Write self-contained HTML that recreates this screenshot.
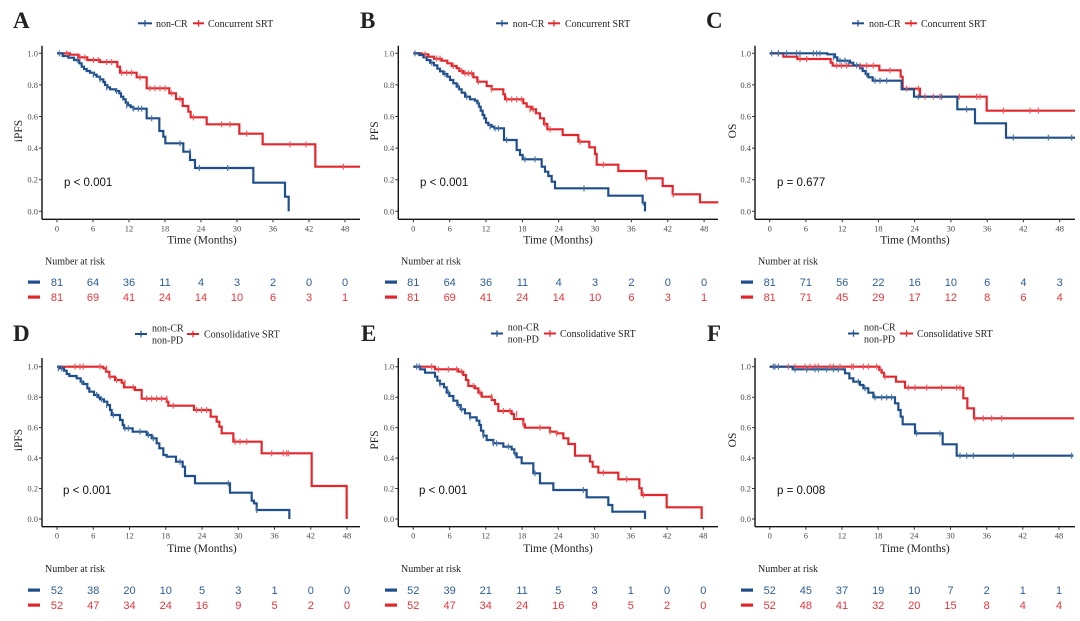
<!DOCTYPE html>
<html><head><meta charset="utf-8"><style>
html,body{margin:0;padding:0;background:#fff;}
svg{display:block;}
.ax{stroke:#111;stroke-width:1.4;fill:none}
.tk{stroke:#333;stroke-width:1;fill:none}
.tl{font-family:"Liberation Serif",serif;font-size:8.5px;fill:#4d4d4d}
.xl{font-family:"Liberation Serif",serif;font-size:11.5px;fill:#222}
.lg{font-family:"Liberation Serif",serif;font-size:10px;fill:#222}
.pl{font-family:"Liberation Serif",serif;font-size:23px;font-weight:bold;fill:#222}
.pv{font-family:"Liberation Sans",sans-serif;font-size:11.5px;fill:#111}
.rb{font-family:"Liberation Sans",sans-serif;font-size:11px;fill:#2c5d97;text-anchor:middle}
.rr{font-family:"Liberation Sans",sans-serif;font-size:11px;fill:#e8333a;text-anchor:middle}
.cb{fill:none;stroke:#1f4e8c;stroke-width:6.5;stroke-linejoin:miter}
.cr{fill:none;stroke:#e3262b;stroke-width:6.5;stroke-linejoin:miter}
.mb{fill:none;stroke:#4a74a8;stroke-width:3.5}
.mr{fill:none;stroke:#ec5a5e;stroke-width:3.5}
</style></head><body>
<svg width="1080" height="621" viewBox="0 0 1080 621" xmlns="http://www.w3.org/2000/svg">
<rect width="1080" height="621" fill="#fff"/>

<!-- ================= PANEL A ================= -->
<text class="pl" x="13" y="28">A</text>
<g>
<line x1="138" y1="23.3" x2="152" y2="23.3" stroke="#1f4e8c" stroke-width="2"/><line x1="145" y1="20" x2="145" y2="26.6" stroke="#1f4e8c" stroke-width="1.2"/>
<text class="lg" x="156" y="26.8">non-CR</text>
<line x1="193" y1="23.3" x2="204" y2="23.3" stroke="#e3262b" stroke-width="2"/><line x1="198.5" y1="20" x2="198.5" y2="26.6" stroke="#e3262b" stroke-width="1.2"/>
<text class="lg" x="208" y="26.8">Concurrent SRT</text>
</g>
<line class="ax" x1="42" y1="45.7" x2="42" y2="219.3"/><line class="ax" x1="42" y1="219.3" x2="360" y2="219.3"/>
<path class="tk" d="M39,53.3H42M39,84.9H42M39,116.5H42M39,148.1H42M39,179.7H42M39,211.3H42"/>
<path class="tk" d="M57,219.3v3M93,219.3v3M129,219.3v3M165,219.3v3M201,219.3v3M237,219.3v3M273,219.3v3M309,219.3v3M345,219.3v3"/>
<g class="tl" text-anchor="end"><text x="38" y="56.3">1.0</text><text x="38" y="87.9">0.8</text><text x="38" y="119.5">0.6</text><text x="38" y="151.1">0.4</text><text x="38" y="182.7">0.2</text><text x="38" y="214.3">0.0</text></g>
<g class="tl" text-anchor="middle"><text x="57" y="231.5">0</text><text x="93" y="231.5">6</text><text x="129" y="231.5">12</text><text x="165" y="231.5">18</text><text x="201" y="231.5">24</text><text x="237" y="231.5">30</text><text x="273" y="231.5">36</text><text x="309" y="231.5">42</text><text x="345" y="231.5">48</text></g>
<text class="xl" x="202" y="243.5" text-anchor="middle">Time (Months)</text>
<text class="xl" transform="translate(22,131) rotate(-90)" text-anchor="middle">iPFS</text>
<text class="pv" x="64" y="186">p &lt; 0.001</text>
<g transform="scale(0.333333)">
<path class="cr" d="M171,160 H210 V164 H235 V172 H262 V180 H300 V186 H352 V200 H360 V218 H410 V232 H440 V265 H508 V280 H528 V297 H548 V318 H565 V335 H572 V352 H620 V373 H718 V401 H788 V433 H946 V500 H1080"/>
<path class="cb" d="M171,160 H188 V168 H205 V173 H222 V180 H238 V190 H245 V200 H252 V207 H260 V213 H270 V218 H282 V224 H290 V230 H300 V238 H310 V246 H315 V255 H322 V262 H330 V268 H348 V273 H358 V280 H363 V290 H370 V298 H377 V308 H384 V316 H392 V321 H400 V326 H440 V355 H478 V393 H490 V410 H496 V430 H550 V455 H570 V480 H585 V504 H760 V548 H855 V590 H866 V634"/>
<path class="mr" d="M200,151v18M240,163v18M255,163v18M280,171v18M295,171v18M320,177v18M335,177v18M365,209v18M380,209v18M395,209v18M420,223v18M450,256v18M465,256v18M480,256v18M495,256v18M515,271v18M540,288v18M580,343v18M665,364v18M690,364v18M740,392v18M870,424v18M918,424v18M1030,491v18"/>
<path class="mb" d="M178,151v18M232,171v18M280,215v18M300,229v18M320,253v18M350,264v18M380,307v18M400,317v18M415,317v18M425,317v18M455,346v18M540,421v18M570,446v18M598,495v18M683,495v18"/>
</g>
<text class="lg" x="45" y="264.5">Number at risk</text>
<rect x="28" y="280.5" width="12" height="3.2" fill="#1f4e8c"/><rect x="28" y="295.5" width="12" height="3.2" fill="#e3262b"/>
<g class="rb"><text x="57" y="286">81</text><text x="93" y="286">64</text><text x="129" y="286">36</text><text x="165" y="286">11</text><text x="201" y="286">4</text><text x="237" y="286">3</text><text x="273" y="286">2</text><text x="309" y="286">0</text><text x="345" y="286">0</text></g>
<g class="rr"><text x="57" y="301">81</text><text x="93" y="301">69</text><text x="129" y="301">41</text><text x="165" y="301">24</text><text x="201" y="301">14</text><text x="237" y="301">10</text><text x="273" y="301">6</text><text x="309" y="301">3</text><text x="345" y="301">1</text></g>

<!-- ================= PANEL B ================= -->
<text class="pl" x="360" y="28">B</text>
<g>
<line x1="496" y1="23.3" x2="508" y2="23.3" stroke="#1f4e8c" stroke-width="2"/><line x1="502" y1="20" x2="502" y2="26.6" stroke="#1f4e8c" stroke-width="1.2"/>
<text class="lg" x="512.7" y="26.8">non-CR</text>
<line x1="548" y1="23.3" x2="560" y2="23.3" stroke="#e3262b" stroke-width="2"/><line x1="554" y1="20" x2="554" y2="26.6" stroke="#e3262b" stroke-width="1.2"/>
<text class="lg" x="565" y="26.8">Concurrent SRT</text>
</g>
<line class="ax" x1="398.3" y1="45.7" x2="398.3" y2="219.3"/><line class="ax" x1="398.3" y1="219.3" x2="718" y2="219.3"/>
<path class="tk" d="M395.3,53.3H398.3M395.3,84.9H398.3M395.3,116.5H398.3M395.3,148.1H398.3M395.3,179.7H398.3M395.3,211.3H398.3"/>
<path class="tk" d="M413.3,219.3v3M449.7,219.3v3M486,219.3v3M522.4,219.3v3M558.7,219.3v3M595.1,219.3v3M631.4,219.3v3M667.8,219.3v3M704.1,219.3v3"/>
<g class="tl" text-anchor="end"><text x="394.3" y="56.3">1.0</text><text x="394.3" y="87.9">0.8</text><text x="394.3" y="119.5">0.6</text><text x="394.3" y="151.1">0.4</text><text x="394.3" y="182.7">0.2</text><text x="394.3" y="214.3">0.0</text></g>
<g class="tl" text-anchor="middle"><text x="413.3" y="231.5">0</text><text x="449.7" y="231.5">6</text><text x="486" y="231.5">12</text><text x="522.4" y="231.5">18</text><text x="558.7" y="231.5">24</text><text x="595.1" y="231.5">30</text><text x="631.4" y="231.5">36</text><text x="667.8" y="231.5">42</text><text x="704.1" y="231.5">48</text></g>
<text class="xl" x="558" y="243.5" text-anchor="middle">Time (Months)</text>
<text class="xl" transform="translate(378,131) rotate(-90)" text-anchor="middle">PFS</text>
<text class="pv" x="420" y="186">p &lt; 0.001</text>
<g transform="translate(360,0) scale(0.333333)">
<path class="cr" d="M160,160 H185 V163 H205 V170 H222 V176 H245 V182 H262 V190 H275 V198 H290 V205 H298 V213 H310 V220 H340 V232 H352 V245 H380 V258 H395 V268 H430 V283 H435 V298 H490 V310 H500 V320 H515 V328 H528 V340 H540 V355 H552 V372 H562 V388 H608 V405 H655 V425 H688 V442 H705 V462 H710 V494 H775 V513 H858 V535 H908 V558 H938 V583 H1020 V607 H1075"/>
<path class="cb" d="M160,160 H178 V165 H190 V172 H200 V180 H210 V188 H222 V196 H232 V206 H240 V214 H250 V222 H262 V230 H270 V240 H280 V250 H290 V260 H297 V268 H305 V278 H315 V290 H330 V298 H345 V302 H352 V310 H357 V320 H362 V332 H368 V345 H373 V355 H378 V368 H385 V375 H395 V380 H403 V385 H432 V420 H470 V450 H480 V465 H488 V478 H545 V500 H555 V515 H565 V528 H575 V545 H585 V565 H745 V587 H848 V608 H855 V634"/>
<path class="mr" d="M195,154v18M230,167v18M240,167v18M280,189v18M305,204v18M315,211v18M325,211v18M335,211v18M355,236v18M395,259v18M440,289v18M455,289v18M470,289v18M485,289v18M510,319v18M520,319v18M555,363v18M570,379v18M660,416v18M730,485v18M860,526v18M940,574v18"/>
<path class="mb" d="M165,151v18M215,179v18M255,213v18M295,251v18M320,281v18M355,301v18M390,371v18M405,376v18M415,376v18M440,411v18M495,469v18M525,469v18M672,556v18M850,599v18"/>
</g>
<text class="lg" x="401" y="264.5">Number at risk</text>
<rect x="385" y="280.5" width="12" height="3.2" fill="#1f4e8c"/><rect x="385" y="295.5" width="12" height="3.2" fill="#e3262b"/>
<g class="rb"><text x="413.3" y="286">81</text><text x="449.7" y="286">64</text><text x="486" y="286">36</text><text x="522.4" y="286">11</text><text x="558.7" y="286">4</text><text x="595.1" y="286">3</text><text x="631.4" y="286">2</text><text x="667.8" y="286">0</text><text x="704.1" y="286">0</text></g>
<g class="rr"><text x="413.3" y="301">81</text><text x="449.7" y="301">69</text><text x="486" y="301">41</text><text x="522.4" y="301">24</text><text x="558.7" y="301">14</text><text x="595.1" y="301">10</text><text x="631.4" y="301">6</text><text x="667.8" y="301">3</text><text x="704.1" y="301">1</text></g>

<!-- ================= PANEL C ================= -->
<text class="pl" x="706" y="28">C</text>
<g>
<line x1="852" y1="23.3" x2="864" y2="23.3" stroke="#1f4e8c" stroke-width="2"/><line x1="858" y1="20" x2="858" y2="26.6" stroke="#1f4e8c" stroke-width="1.2"/>
<text class="lg" x="869" y="26.8">non-CR</text>
<line x1="905" y1="23.3" x2="917" y2="23.3" stroke="#e3262b" stroke-width="2"/><line x1="911" y1="20" x2="911" y2="26.6" stroke="#e3262b" stroke-width="1.2"/>
<text class="lg" x="921" y="26.8">Concurrent SRT</text>
</g>
<line class="ax" x1="755" y1="45.7" x2="755" y2="219.3"/><line class="ax" x1="755" y1="219.3" x2="1075" y2="219.3"/>
<path class="tk" d="M752,53.3H755M752,84.9H755M752,116.5H755M752,148.1H755M752,179.7H755M752,211.3H755"/>
<path class="tk" d="M769.7,219.3v3M805.9,219.3v3M842.2,219.3v3M878.4,219.3v3M914.7,219.3v3M950.9,219.3v3M987.2,219.3v3M1023.4,219.3v3M1059.7,219.3v3"/>
<g class="tl" text-anchor="end"><text x="751" y="56.3">1.0</text><text x="751" y="87.9">0.8</text><text x="751" y="119.5">0.6</text><text x="751" y="151.1">0.4</text><text x="751" y="182.7">0.2</text><text x="751" y="214.3">0.0</text></g>
<g class="tl" text-anchor="middle"><text x="769.7" y="231.5">0</text><text x="805.9" y="231.5">6</text><text x="842.2" y="231.5">12</text><text x="878.4" y="231.5">18</text><text x="914.7" y="231.5">24</text><text x="950.9" y="231.5">30</text><text x="987.2" y="231.5">36</text><text x="1023.4" y="231.5">42</text><text x="1059.7" y="231.5">48</text></g>
<text class="xl" x="915" y="243.5" text-anchor="middle">Time (Months)</text>
<text class="xl" transform="translate(736,131) rotate(-90)" text-anchor="middle">OS</text>
<text class="pv" x="777" y="186">p = 0.677</text>
<g transform="translate(720,0) scale(0.333333)">
<path class="cr" d="M149,160 H190 V170 H232 V177 H332 V188 H338 V197 H478 V211 H542 V230 H548 V266 H600 V290 H800 V332 H1065"/>
<path class="cb" d="M149,160 H322 V163 H345 V172 H352 V182 H390 V188 H400 V196 H420 V205 H428 V213 H437 V222 H445 V232 H458 V242 H545 V268 H582 V290 H712 V328 H765 V370 H858 V413 H1065"/>
<path class="mr" d="M175,151v18M240,168v18M260,168v18M350,188v18M365,188v18M380,188v18M420,188v18M440,188v18M460,188v18M510,202v18M560,257v18M595,257v18M615,281v18M640,281v18M660,281v18M718,281v18M770,281v18M780,281v18M850,323v18M930,323v18M955,323v18"/>
<path class="mb" d="M155,151v18M175,151v18M200,151v18M230,151v18M240,151v18M280,151v18M290,151v18M300,151v18M340,163v18M360,173v18M375,173v18M385,179v18M410,187v18M440,213v18M465,233v18M480,233v18M500,233v18M595,281v18M665,281v18M740,319v18M880,404v18M985,404v18M1055,404v18"/>
</g>
<text class="lg" x="758" y="264.5">Number at risk</text>
<rect x="741" y="280.5" width="12" height="3.2" fill="#1f4e8c"/><rect x="741" y="295.5" width="12" height="3.2" fill="#e3262b"/>
<g class="rb"><text x="769.7" y="286">81</text><text x="805.9" y="286">71</text><text x="842.2" y="286">56</text><text x="878.4" y="286">22</text><text x="914.7" y="286">16</text><text x="950.9" y="286">10</text><text x="987.2" y="286">6</text><text x="1023.4" y="286">4</text><text x="1059.7" y="286">3</text></g>
<g class="rr"><text x="769.7" y="301">81</text><text x="805.9" y="301">71</text><text x="842.2" y="301">45</text><text x="878.4" y="301">29</text><text x="914.7" y="301">17</text><text x="950.9" y="301">12</text><text x="987.2" y="301">8</text><text x="1023.4" y="301">6</text><text x="1059.7" y="301">4</text></g>

<!-- ================= PANEL D ================= -->
<text class="pl" x="13" y="341">D</text>
<g>
<line x1="135" y1="334" x2="147" y2="334" stroke="#1f4e8c" stroke-width="2"/><line x1="141" y1="330.7" x2="141" y2="337.3" stroke="#1f4e8c" stroke-width="1.2"/>
<text class="lg" x="152" y="331.5">non-CR</text><text class="lg" x="152" y="343.5">non-PD</text>
<line x1="187" y1="334" x2="199" y2="334" stroke="#e3262b" stroke-width="2"/><line x1="193" y1="330.7" x2="193" y2="337.3" stroke="#e3262b" stroke-width="1.2"/>
<text class="lg" x="204" y="337.5">Consolidative SRT</text>
</g>
<line class="ax" x1="42" y1="358" x2="42" y2="526.7"/><line class="ax" x1="42" y1="526.7" x2="360" y2="526.7"/>
<path class="tk" d="M39,366.7H42M39,397.2H42M39,427.6H42M39,458.1H42M39,488.5H42M39,519H42"/>
<path class="tk" d="M57,526.7v3M93.3,526.7v3M129.5,526.7v3M165.8,526.7v3M202,526.7v3M238.3,526.7v3M274.5,526.7v3M310.8,526.7v3M347,526.7v3"/>
<g class="tl" text-anchor="end"><text x="38" y="369.7">1.0</text><text x="38" y="400.2">0.8</text><text x="38" y="430.6">0.6</text><text x="38" y="461.1">0.4</text><text x="38" y="491.5">0.2</text><text x="38" y="522">0.0</text></g>
<g class="tl" text-anchor="middle"><text x="57" y="538.7">0</text><text x="93.3" y="538.7">6</text><text x="129.5" y="538.7">12</text><text x="165.8" y="538.7">18</text><text x="202" y="538.7">24</text><text x="238.3" y="538.7">30</text><text x="274.5" y="538.7">36</text><text x="310.8" y="538.7">42</text><text x="347" y="538.7">48</text></g>
<text class="xl" x="202" y="552" text-anchor="middle">Time (Months)</text>
<text class="xl" transform="translate(22,440) rotate(-90)" text-anchor="middle">iPFS</text>
<text class="pv" x="63" y="494">p &lt; 0.001</text>
<g transform="translate(0,310) scale(0.333333)">
<path class="cr" d="M171,170 H310 V175 H318 V185 H328 V200 H345 V210 H365 V218 H372 V232 H405 V240 H425 V266 H500 V275 H505 V287 H582 V300 H632 V320 H650 V335 H658 V350 H665 V370 H700 V395 H785 V430 H935 V528 H1040 V627"/>
<path class="cb" d="M171,170 H180 V175 H192 V182 H200 V192 H208 V198 H230 V205 H242 V215 H250 V222 H262 V235 H268 V245 H282 V255 H295 V262 H300 V268 H312 V275 H322 V285 H330 V300 H335 V315 H360 V330 H368 V345 H372 V355 H398 V365 H440 V375 H455 V385 H470 V400 H478 V415 H490 V435 H500 V440 H528 V455 H548 V470 H555 V498 H585 V520 H690 V548 H755 V572 H762 V580 H770 V600 H868 V627"/>
<path class="mr" d="M225,161v18M240,161v18M250,161v18M300,161v18M320,166v18M330,191v18M350,201v18M375,209v18M400,223v18M440,257v18M455,257v18M470,257v18M485,257v18M500,257v18M520,278v18M590,291v18M605,291v18M620,291v18M705,386v18M720,386v18M740,386v18M815,421v18M850,421v18M860,421v18M865,421v18"/>
<path class="mb" d="M175,166v18M185,166v18M245,206v18M290,246v18M305,259v18M320,276v18M340,306v18M375,346v18M385,346v18M420,356v18M445,366v18M460,376v18M540,446v18M685,511v18M770,591v18"/>
</g>
<text class="lg" x="45" y="572">Number at risk</text>
<rect x="28" y="588.5" width="12" height="3.2" fill="#1f4e8c"/><rect x="28" y="603.5" width="12" height="3.2" fill="#e3262b"/>
<g class="rb"><text x="57" y="594">52</text><text x="93.3" y="594">38</text><text x="129.5" y="594">20</text><text x="165.8" y="594">10</text><text x="202" y="594">5</text><text x="238.3" y="594">3</text><text x="274.5" y="594">1</text><text x="310.8" y="594">0</text><text x="347" y="594">0</text></g>
<g class="rr"><text x="57" y="609">52</text><text x="93.3" y="609">47</text><text x="129.5" y="609">34</text><text x="165.8" y="609">24</text><text x="202" y="609">16</text><text x="238.3" y="609">9</text><text x="274.5" y="609">5</text><text x="310.8" y="609">2</text><text x="347" y="609">0</text></g>

<!-- ================= PANEL E ================= -->
<text class="pl" x="361" y="341">E</text>
<g>
<line x1="491" y1="333.5" x2="503" y2="333.5" stroke="#1f4e8c" stroke-width="2"/><line x1="497" y1="330.2" x2="497" y2="336.8" stroke="#1f4e8c" stroke-width="1.2"/>
<text class="lg" x="507.7" y="330.5">non-CR</text><text class="lg" x="507.7" y="342.5">non-PD</text>
<line x1="544" y1="333.5" x2="556" y2="333.5" stroke="#e3262b" stroke-width="2"/><line x1="550" y1="330.2" x2="550" y2="336.8" stroke="#e3262b" stroke-width="1.2"/>
<text class="lg" x="560" y="337">Consolidative SRT</text>
</g>
<line class="ax" x1="398.3" y1="358" x2="398.3" y2="526.7"/><line class="ax" x1="398.3" y1="526.7" x2="718" y2="526.7"/>
<path class="tk" d="M395.3,366.7H398.3M395.3,397.2H398.3M395.3,427.6H398.3M395.3,458.1H398.3M395.3,488.5H398.3M395.3,519H398.3"/>
<path class="tk" d="M413.3,526.7v3M449.6,526.7v3M485.8,526.7v3M522.1,526.7v3M558.3,526.7v3M594.6,526.7v3M630.8,526.7v3M667.1,526.7v3M703.3,526.7v3"/>
<g class="tl" text-anchor="end"><text x="394.3" y="369.7">1.0</text><text x="394.3" y="400.2">0.8</text><text x="394.3" y="430.6">0.6</text><text x="394.3" y="461.1">0.4</text><text x="394.3" y="491.5">0.2</text><text x="394.3" y="522">0.0</text></g>
<g class="tl" text-anchor="middle"><text x="413.3" y="538.7">0</text><text x="449.6" y="538.7">6</text><text x="485.8" y="538.7">12</text><text x="522.1" y="538.7">18</text><text x="558.3" y="538.7">24</text><text x="594.6" y="538.7">30</text><text x="630.8" y="538.7">36</text><text x="667.1" y="538.7">42</text><text x="703.3" y="538.7">48</text></g>
<text class="xl" x="558" y="552" text-anchor="middle">Time (Months)</text>
<text class="xl" transform="translate(378,440) rotate(-90)" text-anchor="middle">PFS</text>
<text class="pv" x="419" y="494">p &lt; 0.001</text>
<g transform="translate(360,310) scale(0.333333)">
<path class="cr" d="M160,170 H225 V178 H295 V185 H310 V195 H318 V210 H325 V228 H345 V235 H355 V248 H365 V260 H395 V270 H405 V282 H415 V303 H455 V312 H462 V327 H490 V343 H495 V353 H570 V365 H590 V370 H610 V385 H625 V402 H645 V437 H690 V455 H698 V470 H715 V488 H775 V508 H838 V535 H845 V555 H920 V592 H1025 V627"/>
<path class="cb" d="M160,170 H180 V178 H195 V188 H225 V200 H232 V212 H240 V222 H252 V232 H260 V248 H268 V258 H280 V272 H292 V285 H302 V298 H315 V310 H330 V322 H350 V332 H358 V345 H363 V362 H370 V377 H380 V390 H400 V400 H430 V410 H455 V418 H463 V430 H470 V442 H485 V460 H520 V490 H540 V520 H580 V540 H680 V562 H745 V585 H757 V605 H855 V627"/>
<path class="mr" d="M215,161v18M235,169v18M265,169v18M290,169v18M305,176v18M340,219v18M360,239v18M395,251v18M430,294v18M450,294v18M470,303v18M490,334v18M540,344v18M570,356v18M590,361v18M730,479v18M800,499v18M850,546v18"/>
<path class="mb" d="M170,161v18M178,161v18M240,213v18M265,239v18M295,276v18M305,289v18M330,313v18M370,368v18M400,391v18M410,391v18M445,401v18M465,421v18M525,481v18M670,531v18"/>
</g>
<text class="lg" x="401" y="572">Number at risk</text>
<rect x="385" y="588.5" width="12" height="3.2" fill="#1f4e8c"/><rect x="385" y="603.5" width="12" height="3.2" fill="#e3262b"/>
<g class="rb"><text x="413.3" y="594">52</text><text x="449.6" y="594">39</text><text x="485.8" y="594">21</text><text x="522.1" y="594">11</text><text x="558.3" y="594">5</text><text x="594.6" y="594">3</text><text x="630.8" y="594">1</text><text x="667.1" y="594">0</text><text x="703.3" y="594">0</text></g>
<g class="rr"><text x="413.3" y="609">52</text><text x="449.6" y="609">47</text><text x="485.8" y="609">34</text><text x="522.1" y="609">24</text><text x="558.3" y="609">16</text><text x="594.6" y="609">9</text><text x="630.8" y="609">5</text><text x="667.1" y="609">2</text><text x="703.3" y="609">0</text></g>

<!-- ================= PANEL F ================= -->
<text class="pl" x="707" y="341">F</text>
<g>
<line x1="848" y1="333.5" x2="859" y2="333.5" stroke="#1f4e8c" stroke-width="2"/><line x1="853.5" y1="330.2" x2="853.5" y2="336.8" stroke="#1f4e8c" stroke-width="1.2"/>
<text class="lg" x="864" y="330.5">non-CR</text><text class="lg" x="864" y="342.5">non-PD</text>
<line x1="900" y1="333.5" x2="913" y2="333.5" stroke="#e3262b" stroke-width="2"/><line x1="906.5" y1="330.2" x2="906.5" y2="336.8" stroke="#e3262b" stroke-width="1.2"/>
<text class="lg" x="917" y="337">Consolidative SRT</text>
</g>
<line class="ax" x1="755" y1="358" x2="755" y2="526.7"/><line class="ax" x1="755" y1="526.7" x2="1075" y2="526.7"/>
<path class="tk" d="M752,366.7H755M752,397.2H755M752,427.6H755M752,458.1H755M752,488.5H755M752,519H755"/>
<path class="tk" d="M769.7,526.7v3M805.9,526.7v3M842,526.7v3M878.2,526.7v3M914.3,526.7v3M950.5,526.7v3M986.7,526.7v3M1022.8,526.7v3M1059,526.7v3"/>
<g class="tl" text-anchor="end"><text x="751" y="369.7">1.0</text><text x="751" y="400.2">0.8</text><text x="751" y="430.6">0.6</text><text x="751" y="461.1">0.4</text><text x="751" y="491.5">0.2</text><text x="751" y="522">0.0</text></g>
<g class="tl" text-anchor="middle"><text x="769.7" y="538.7">0</text><text x="805.9" y="538.7">6</text><text x="842" y="538.7">12</text><text x="878.2" y="538.7">18</text><text x="914.3" y="538.7">24</text><text x="950.5" y="538.7">30</text><text x="986.7" y="538.7">36</text><text x="1022.8" y="538.7">42</text><text x="1059" y="538.7">48</text></g>
<text class="xl" x="915" y="552" text-anchor="middle">Time (Months)</text>
<text class="xl" transform="translate(736,440) rotate(-90)" text-anchor="middle">OS</text>
<text class="pv" x="777" y="494">p = 0.008</text>
<g transform="translate(720,310) scale(0.333333)">
<path class="cr" d="M149,170 H478 V180 H485 V188 H492 V200 H528 V215 H555 V233 H730 V265 H742 V295 H762 V325 H1062"/>
<path class="cb" d="M149,170 H218 V178 H375 V190 H388 V205 H400 V215 H420 V225 H430 V235 H445 V248 H460 V262 H525 V280 H535 V300 H542 V320 H548 V343 H585 V370 H668 V403 H710 V437 H1060"/>
<path class="mr" d="M205,161v18M225,161v18M255,161v18M270,161v18M285,161v18M295,161v18M330,161v18M340,161v18M360,161v18M395,161v18M400,161v18M430,161v18M445,161v18M470,161v18M482,171v18M495,191v18M565,224v18M585,224v18M620,224v18M665,224v18M710,224v18M720,224v18M765,316v18M790,316v18M815,316v18M845,316v18"/>
<path class="mb" d="M160,161v18M165,161v18M175,161v18M225,169v18M260,169v18M285,169v18M295,169v18M320,169v18M340,169v18M355,169v18M415,206v18M435,226v18M465,253v18M485,253v18M500,253v18M515,253v18M590,361v18M660,361v18M720,428v18M740,428v18M760,428v18M880,428v18M1055,428v18"/>
</g>
<text class="lg" x="758" y="572">Number at risk</text>
<rect x="741" y="588.5" width="12" height="3.2" fill="#1f4e8c"/><rect x="741" y="603.5" width="12" height="3.2" fill="#e3262b"/>
<g class="rb"><text x="769.7" y="594">52</text><text x="805.9" y="594">45</text><text x="842" y="594">37</text><text x="878.2" y="594">19</text><text x="914.3" y="594">10</text><text x="950.5" y="594">7</text><text x="986.7" y="594">2</text><text x="1022.8" y="594">1</text><text x="1059" y="594">1</text></g>
<g class="rr"><text x="769.7" y="609">52</text><text x="805.9" y="609">48</text><text x="842" y="609">41</text><text x="878.2" y="609">32</text><text x="914.3" y="609">20</text><text x="950.5" y="609">15</text><text x="986.7" y="609">8</text><text x="1022.8" y="609">4</text><text x="1059" y="609">4</text></g>
</svg>
</body></html>
